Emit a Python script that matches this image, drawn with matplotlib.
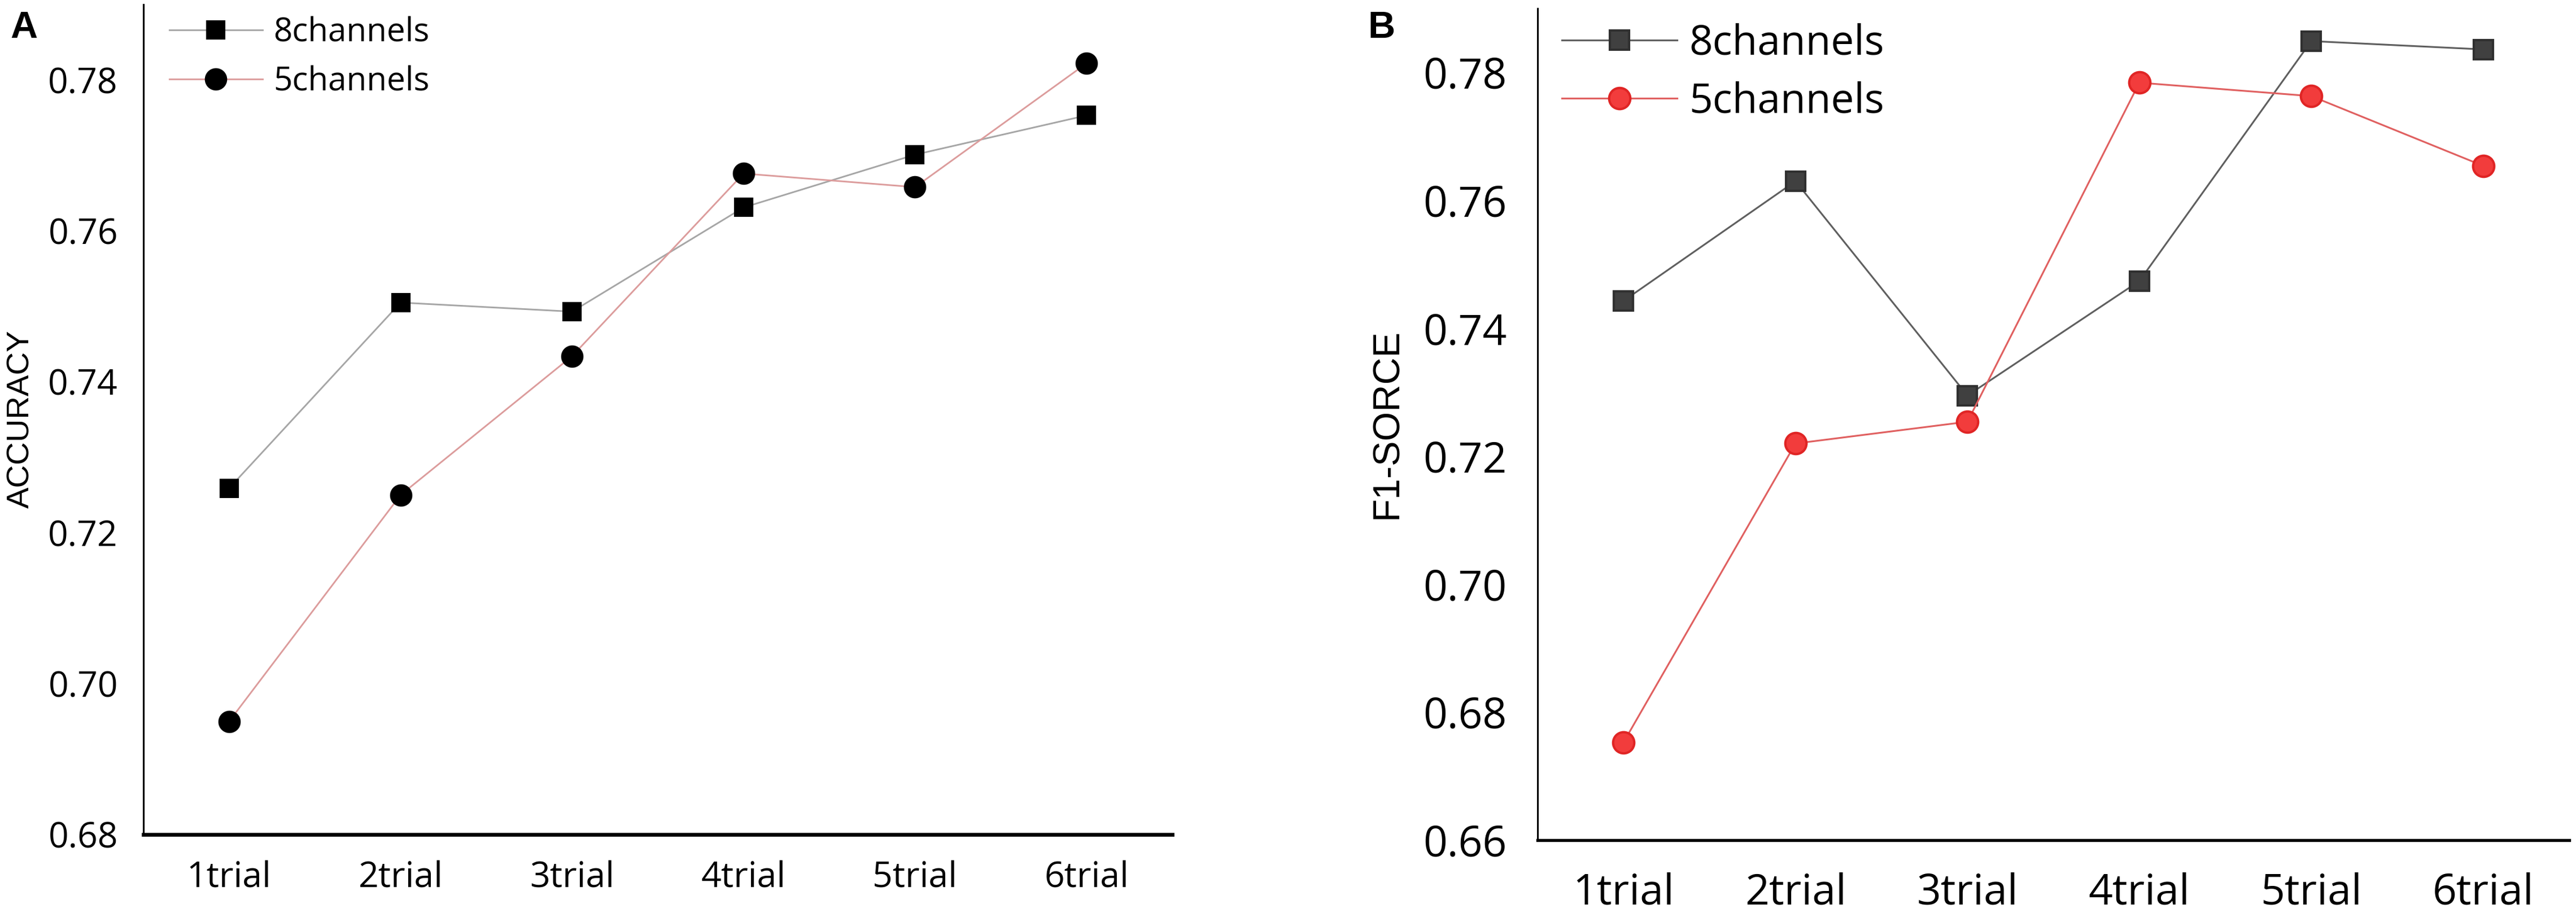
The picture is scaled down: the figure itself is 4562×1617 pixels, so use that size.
import matplotlib
matplotlib.use('Agg')
import matplotlib.pyplot as plt

trials = ['1trial', '2trial', '3trial', '4trial', '5trial', '6trial']

# panel A - accuracy
acc_8ch = [0.7259, 0.7505, 0.7493, 0.7631, 0.7701, 0.7753]
acc_5ch = [0.6950, 0.7250, 0.7434, 0.7676, 0.7658, 0.7822]
acc_ticks = [0.68, 0.70, 0.72, 0.74, 0.76, 0.78]

# panel B - f1 score
f1_8ch = [0.7443, 0.7630, 0.7295, 0.7474, 0.7849, 0.7836]
f1_5ch = [0.6753, 0.7220, 0.7254, 0.7784, 0.7763, 0.7654]
f1_ticks = [0.66, 0.68, 0.70, 0.72, 0.74, 0.76, 0.78]

W, H = 4562, 1617
DPI = 300
fig = plt.figure(figsize=(W / DPI, H / DPI), dpi=DPI)

tick_font = 'Open Sans'
label_font = 'Liberation Sans'


def box(l, r, t, b):
	return [l / W, 1 - b / H, (r - l) / W, (b - t) / H]


def style_axes(ax, yticks, ylim, tsize, ypad, xpad, bottom_lw):
	x = list(range(len(trials)))
	ax.set_xlim(-0.5, len(trials) - 0.5)
	ax.set_ylim(*ylim)
	ax.set_xticks(x)
	ax.set_xticklabels(trials, fontfamily=tick_font, fontsize=tsize)
	ax.set_yticks(yticks)
	ax.set_yticklabels(['%.2f' % v for v in yticks], fontfamily=tick_font, fontsize=tsize)
	ax.tick_params(axis='y', length=0, pad=ypad)
	ax.tick_params(axis='x', length=0, pad=xpad)
	ax.spines['top'].set_visible(False)
	ax.spines['right'].set_visible(False)
	ax.spines['left'].set_linewidth(0.75)
	ax.spines['bottom'].set_linewidth(bottom_lw)
	return x


# ---- A ----
axA = fig.add_axes(box(254, 2076, 8, 1478))
x = style_axes(axA, acc_ticks, (0.68, 0.79), 15, 10.8, 11.0, 1.6)
axA.plot(x, acc_8ch, color='#a6a6a6', lw=0.7, marker='s', ms=7,
		 mfc='black', mec='black', label='8channels')
axA.plot(x, acc_5ch, color='#dc9c9c', lw=0.7, marker='o', ms=8.5,
		 mfc='black', mec='black', label='5channels')
axA.set_ylabel('ACCURACY', fontfamily=label_font, fontsize=13.5)
axA.yaxis.label.set_va('center')
axA.yaxis.set_label_coords((37.5 - 254) / 1822, (1478 - 742) / 1470)
axA.legend(loc='upper left', bbox_to_anchor=(0.025, 0.986), frameon=False,
		   borderpad=0, borderaxespad=0, handlelength=2.83, handletextpad=0.33,
		   labelspacing=0.5, prop={'family': tick_font, 'size': 14})

# ---- B ----
axB = fig.add_axes(box(2723, 4550, 15, 1488))
x = style_axes(axB, f1_ticks, (0.66, 0.79), 18, 13, 13.5, 1.3)
axB.plot(x, f1_8ch, color='#5f5f5f', lw=0.75, marker='s', ms=8,
		 mfc='#404040', mec='#303030', label='8channels')
axB.plot(x, f1_5ch, color='#e06060', lw=0.75, marker='o', ms=9,
		 mfc='#f23c3c', mec='#e02525', label='5channels')
axB.set_ylabel('F1-SORCE', fontfamily=label_font, fontsize=16)
axB.yaxis.label.set_va('center')
axB.yaxis.set_label_coords((2457 - 2723) / 1827, (1488 - 750) / 1473)
axB.legend(loc='upper left', bbox_to_anchor=(0.0235, 0.983), frameon=False,
		   borderpad=0, borderaxespad=0, handlelength=2.8, handletextpad=0.29,
		   labelspacing=0.4, prop={'family': tick_font, 'size': 17.5})

# panel letters
fig.text(18 / W, 1 - 67 / H, 'A', fontfamily='Liberation Sans', fontweight='bold',
		 fontsize=16, va='baseline', ha='left')
fig.text(2423 / W, 1 - 67 / H, 'B', fontfamily='Liberation Sans', fontweight='bold',
		 fontsize=16, va='baseline', ha='left')

fig.savefig('out.png', dpi=DPI)
